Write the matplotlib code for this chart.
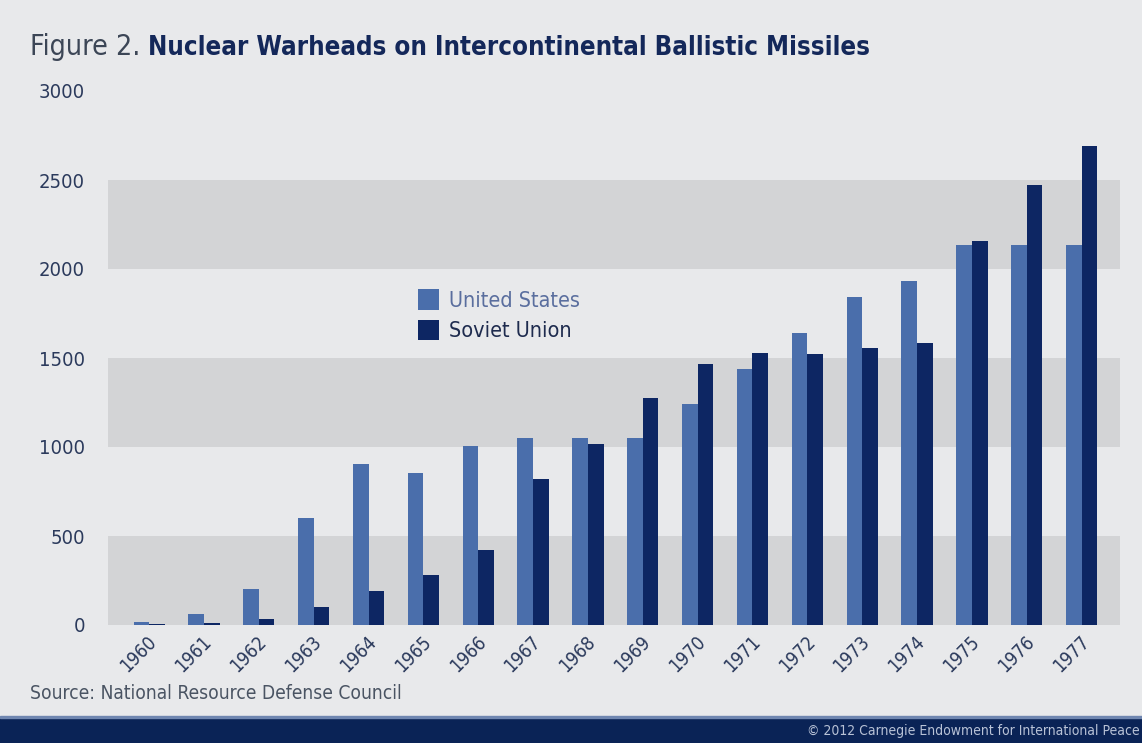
import numpy as np
import matplotlib
matplotlib.use("Agg")
from matplotlib import pyplot as plt
from matplotlib.patches import Rectangle
import matplotlib.transforms as mtransforms

years = [str(y) for y in range(1960, 1978)]
us_warheads = [18, 60, 200, 600, 905, 855, 1005, 1050, 1050, 1050,
               1240, 1440, 1640, 1840, 1930, 2135, 2135, 2135]
su_warheads = [6, 14, 36, 100, 193, 282, 420, 820, 1015, 1275,
               1465, 1530, 1520, 1555, 1585, 2160, 2470, 2690]
y_ticks = [0, 500, 1000, 1500, 2000, 2500, 3000]
bands = [(0, 500), (1000, 1500), (2000, 2500)]

bg = "#e8e9eb"
band_col = "#d3d4d6"
us_col = "#4a6eab"
su_col = "#0d2663"
navy = "#0a2356"
label_col = "#2b3a5c"
fam = ["DejaVu Sans"]
st = "condensed"

fig = plt.figure(figsize=(11.42, 7.43), dpi=100)
fig.patch.set_facecolor(bg)
# axes: x=-0.75..17.7 spans 108..1120 px, y=0..3000 spans 625..91 px
ax = fig.add_axes([108 / 1142, 118 / 743, 1012 / 1142, 534 / 743])
ax.set_facecolor(bg)

x = np.arange(len(years))
w = 0.285
for lo, hi in bands:
    ax.axhspan(lo, hi, color=band_col, lw=0, zorder=0)
ax.bar(x - w / 2, us_warheads, w, color=us_col, zorder=2, label="United States")
ax.bar(x + w / 2, su_warheads, w, color=su_col, zorder=2, label="Soviet Union")

ax.set_xlim(-0.75, 17.7)
ax.set_ylim(0, 3000)
for s in ax.spines.values():
    s.set_visible(False)
ax.tick_params(length=0)
ax.set_yticks(y_ticks)
ax.set_yticklabels([str(t) for t in y_ticks], fontsize=14.5, color=label_col,
                   family=fam, fontstretch=st)
ax.tick_params(axis="y", pad=16.5)
ax.tick_params(axis="x", pad=0)
ax.set_xticks(x)
off = mtransforms.ScaledTranslation(-0.02, -0.07, fig.dpi_scale_trans)
ax.set_xticklabels(years, rotation=45, ha="right", va="top",
                   rotation_mode="anchor", fontsize=13.5, color=label_col,
                   family=fam, fontstretch=st)
for lab in ax.get_xticklabels():
    lab.set_transform(lab.get_transform() + off)

leg = ax.legend(loc="upper left", bbox_to_anchor=(0.287, 0.665), frameon=False,
                handlelength=1.0, handleheight=1.1, handletextpad=0.45,
                labelspacing=0.4,
                prop={"family": fam, "size": 15.5, "stretch": st})
for txt, c in zip(leg.get_texts(), ["#5a6e9e", "#1e2b4e"]):
    txt.set_color(c)

t1 = fig.text(30 / 1142, 1 - 55 / 743, "Figure 2. ", fontsize=20.5,
              color="#3c4656", family=fam, fontstretch=st, va="baseline")
ax.annotate("Nuclear Warheads on Intercontinental Ballistic Missiles",
            xy=(1, 0), xycoords=t1, va="bottom", fontsize=18.5,
            color="#14285a", fontweight="bold", family=fam, fontstretch=st,
            annotation_clip=False)
fig.text(30 / 1142, 1 - 699 / 743, "Source: National Resource Defense Council",
         fontsize=13.8, color="#4a5463", family=fam, fontstretch=st,
         va="baseline")

fig.patches.append(Rectangle((0, 0), 1, 25 / 743, transform=fig.transFigure,
                             color=navy, zorder=1))
fig.patches.append(Rectangle((0, 25 / 743), 1, 2 / 743, transform=fig.transFigure,
                             color="#6f86b0", zorder=1))
fig.text(0.998, 0.011, "\u00a9 2012 Carnegie Endowment for International Peace",
         fontsize=10, color="#b8c2d6", ha="right", family=fam, fontstretch=st,
         zorder=2)

fig.savefig("out.png", dpi=100, facecolor=bg)
